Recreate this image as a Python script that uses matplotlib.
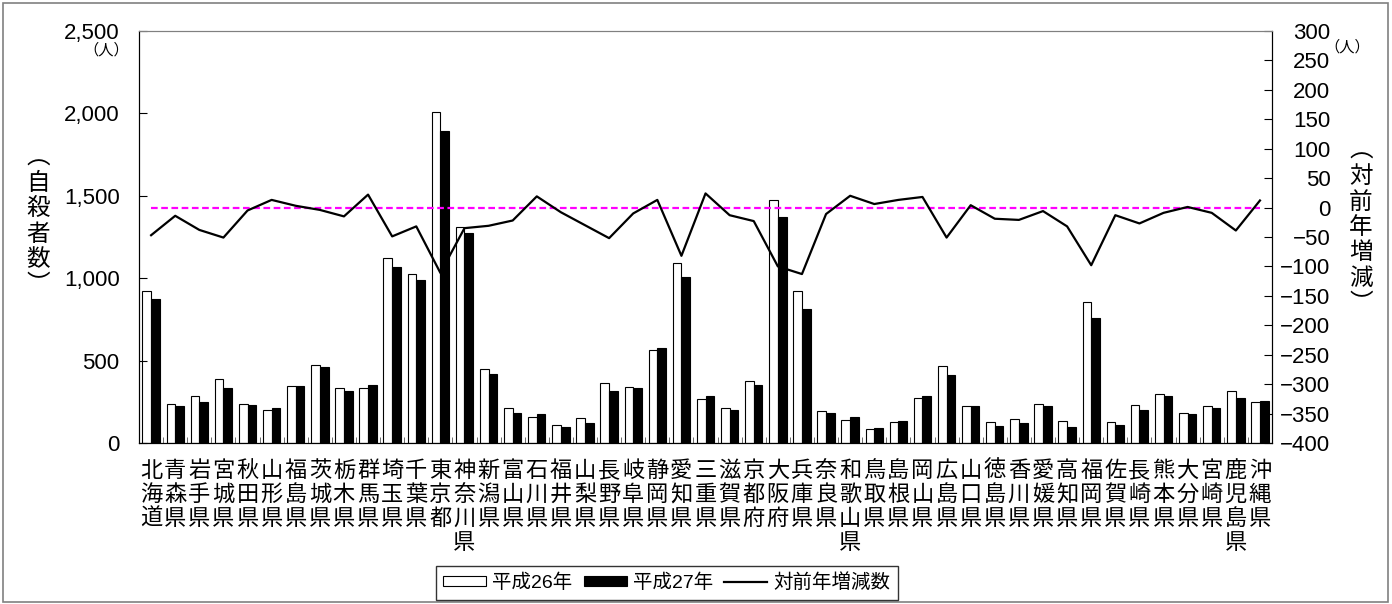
import numpy as np
import matplotlib.pyplot as plt
from matplotlib.patches import Rectangle

plt.rcParams['font.family'] = ['Liberation Sans', 'Noto Sans CJK JP']

prefs = ['北海道', '青森県', '岩手県', '宮城県', '秋田県', '山形県', '福島県', '茨城県',
         '栃木県', '群馬県', '埼玉県', '千葉県', '東京都', '神奈川県', '新潟県', '富山県',
         '石川県', '福井県', '山梨県', '長野県', '岐阜県', '静岡県', '愛知県', '三重県',
         '滋賀県', '京都府', '大阪府', '兵庫県', '奈良県', '和歌山県', '鳥取県', '島根県',
         '岡山県', '広島県', '山口県', '徳島県', '香川県', '愛媛県', '高知県', '福岡県',
         '佐賀県', '長崎県', '熊本県', '大分県', '宮崎県', '鹿児島県', '沖縄県']

h26 = [920, 239, 287, 386, 235, 198, 348, 471, 332, 332, 1123, 1024, 2007, 1311, 451, 210,
       156, 111, 152, 366, 342, 566, 1090, 265, 214, 378, 1476, 924, 194, 138, 87, 125,
       273, 469, 226, 125, 144, 235, 132, 858, 127, 229, 299, 180, 223, 314, 247]
h27 = [872, 223, 247, 334, 229, 210, 348, 463, 316, 352, 1070, 989, 1896, 1272, 419, 184,
       174, 99, 119, 314, 332, 574, 1009, 285, 198, 354, 1373, 811, 180, 156, 91, 135,
       287, 415, 226, 103, 121, 226, 95, 757, 111, 198, 285, 174, 212, 273, 257]
diff = [-47, -14, -38, -51, -5, 13, 3, -4, -15, 22, -49, -32, -111, -35, -31, -22,
        19, -8, -30, -52, -10, 13, -82, 24, -13, -23, -100, -113, -11, 20, 6, 13,
        18, -51, 4, -19, -21, -6, -32, -98, -13, -27, -9, 1, -9, -39, 12]

x = np.arange(len(prefs))
labels = ['\n'.join(p) for p in prefs]

fig = plt.figure(figsize=(13.92, 6.04), dpi=100)
ax = fig.add_axes([0.0999, 0.2666, 0.8139, 0.6821])
w = 0.36
ax.bar(x - w / 2, h26, w, color='white', edgecolor='black', linewidth=0.8, label='平成26年')
ax.bar(x + w / 2, h27, w, color='black', edgecolor='black', linewidth=0.8, label='平成27年')
ax.set_xlim(-0.5, len(prefs) - 0.5)
ax.set_ylim(0, 2500)
ax.set_yticks(np.arange(0, 2501, 500))
ax.set_yticklabels(['{:,}'.format(v) for v in range(0, 2501, 500)])
ax.tick_params(axis='y', direction='in', length=6, labelsize=16, pad=14)
ax.set_xticks(np.arange(-0.5, len(prefs), 1), minor=True)
ax.set_xticks(x)
ax.set_xticklabels(labels, fontsize=16, linespacing=1.18, va='top')
ax.tick_params(axis='x', which='major', length=0, pad=13)
ax.tick_params(axis='x', which='minor', direction='in', length=4, color='#555555')
ax.spines['top'].set_color('#808080')

ax2 = ax.twinx()
ax2.hlines(0, x[0], x[-1], colors='#FF00FF', linestyles=(0, (3, 1.6)), linewidth=1.6)
ax2.plot(x, diff, color='black', linewidth=1.6, label='対前年増減数')
ax2.set_ylim(-400, 300)
ax2.set_yticks(np.arange(-400, 301, 50))
ax2.tick_params(axis='y', direction='in', length=6, labelsize=16, pad=42)
for t in ax2.get_yticklabels():
    t.set_horizontalalignment('right')
ax2.spines['top'].set_color('#808080')

fig.text(0.0765, 0.917, '（人）', fontsize=11, ha='center', va='center')
fig.text(0.968, 0.921, '（人）', fontsize=11, ha='center', va='center')
fig.text(0.0273, 0.6325, '︵\n自\n殺\n者\n数\n︶', fontsize=17, ha='center', va='center',
         linespacing=1.2)
fig.text(0.9777, 0.6225, '︵\n対\n前\n年\n増\n減\n︶', fontsize=17, ha='center', va='center',
         linespacing=1.2)

h1, l1 = ax.get_legend_handles_labels()
h2, l2 = ax2.get_legend_handles_labels()
fig.legend(h1 + h2, l1 + l2, loc='center', bbox_to_anchor=(0.479, 0.035), ncol=3,
           fontsize=14, frameon=True, fancybox=False, edgecolor='black',
           handlelength=2.2, handleheight=0.4, handletextpad=0.3, columnspacing=0.6,
           borderpad=0.4)

fig.patches.append(Rectangle((0.002, 0.003), 0.995, 0.992, transform=fig.transFigure,
                             fill=False, edgecolor='#808080', linewidth=1.2))

fig.savefig('out.png', dpi=100)
